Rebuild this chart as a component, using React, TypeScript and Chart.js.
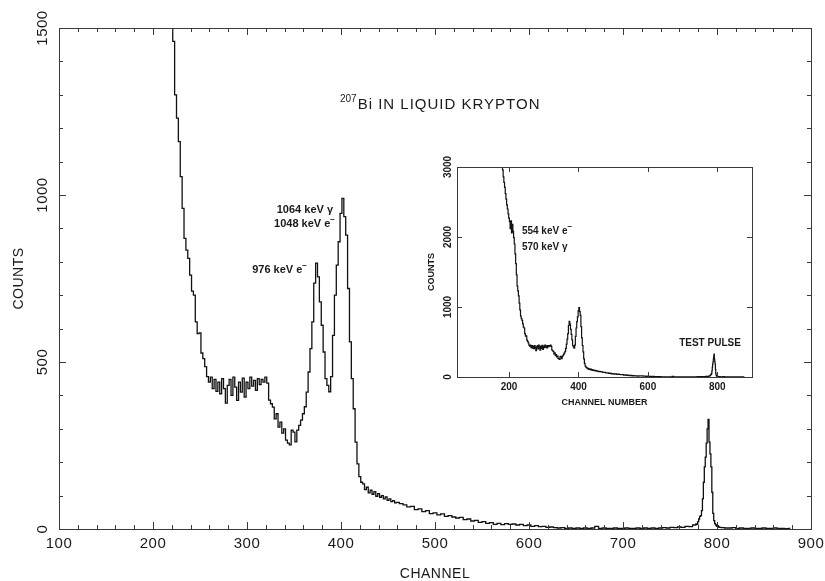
import { useEffect, useRef } from "react";
import { Chart, registerables } from "chart.js";

Chart.register(...registerables);

// ---- Spectrum data (counts), split into channel segments ----
// segment 1: channels 180..460 every 2 channels
const SEG1_START = 180;
const SEG1_STEP = 2;
const seg1Counts = [
  3050, 2960, 2860, 2780, 2710, 2620, 2540, 2460, 2400, 2330, // 180-198
  2270, 2220, 2120, 2230, 2060, 2180, 2080, 1990, 1900, 1760, // 200-218
  1620, 1460, 1300, 1230, 1160, 1055, 960, 870, 835, 810,     // 220-238
  760, 712, 700, 620, 585, 587, 527, 510, 486, 456,           // 240-258
  440, 455, 420, 448, 412, 440, 405, 450, 420, 377,           // 260-278
  430, 448, 400, 455, 425, 385, 440, 410, 452, 395,           // 280-298
  440, 420, 455, 428, 445, 415, 450, 432, 448, 440,           // 300-318
  455, 437, 386, 375, 365, 330, 345, 305, 320, 287,           // 320-338
  300, 266, 257, 252, 296, 290, 261, 296, 310, 326,           // 340-358
  345, 366, 410, 470, 540, 620, 736, 796, 755, 680,           // 360-378
  610, 530, 450, 430, 411, 456, 580, 700, 790, 860,           // 380-398
  945, 990, 935, 880, 720, 560, 450, 360, 260, 195,           // 400-418
  157, 140, 135, 118, 125, 108, 116, 104, 112, 98,            // 420-438
  106, 95, 100, 90, 96, 86, 90, 82, 85, 78,                   // 440-458
  80,                                                         // 460
];
// segment 2: channels 464..776 every 4 channels
const SEG2_START = 464;
const SEG2_STEP = 4;
const seg2Counts = [
  76, 72, 66, 68, 58, 60, 52, 55, 46, 48,   // 464-500
  42, 45, 38, 40, 36, 33, 35, 28, 30, 24,   // 504-540
  26, 20, 22, 17, 19, 14, 17, 13, 16, 14,   // 544-580
  15, 12, 14, 10, 12, 8, 10, 7, 8, 5,       // 584-620
  6, 4, 3, 4, 2, 3, 2, 3, 2, 3,             // 624-660
  2, 3, 8, 2, 3, 2, 2, 3, 2, 2,             // 664-700
  3, 2, 2, 3, 2, 3, 2, 3, 2, 3,             // 704-740
  4, 3, 5, 4, 6, 5, 8, 7, 12,               // 744-776
];
// segment 3: test pulse, channels 777..803 every channel
const SEG3_START = 777;
const SEG3_STEP = 1;
const seg3Counts = [
  12, 15, 14, 22, 30, 38, 40, 55, 90, 140, // 777-786
  186, 215, 257, 300, 328, 260, 225, 186, 110, 47, // 787-796
  25, 16, 12, 8, 10, 6, 5,                 // 797-803
];
// segment 4: channels 806..878 every 4 channels
const SEG4_START = 806;
const SEG4_STEP = 4;
const seg4Counts = [4, 3, 3, 4, 2, 3, 2, 2, 3, 2, 2, 3, 2, 2, 3, 2, 2, 1, 2];

// ---- Axis tick labels ----
const MAIN_X_LABELS = [100, 200, 300, 400, 500, 600, 700, 800, 900];
const MAIN_Y_LABELS = [0, 500, 1000, 1500];
const INSET_X_LABELS = [200, 400, 600, 800];
const INSET_Y_LABELS = [0, 1000, 2000, 3000];

// ---- Texts ----
const MAIN_TITLE_SUP = "207";
const MAIN_TITLE = "Bi IN LIQUID KRYPTON";
const MAIN_X_TITLE = "CHANNEL";
const MAIN_Y_TITLE = "COUNTS";
const INSET_X_TITLE = "CHANNEL NUMBER";
const INSET_Y_TITLE = "COUNTS";
// [text, superscript, channel, counts, align]
const MAIN_NOTES: [string, string, number, number, CanvasTextAlign][] = [
  ["1064 keV γ", "", 391.5, 955, "right"],
  ["1048 keV e", "−", 393.6, 913, "right"],
  ["976 keV e", "−", 363.8, 775, "right"],
];
const INSET_NOTES: [string, string, number, number, CanvasTextAlign][] = [
  ["554 keV e", "−", 237, 2086, "left"],
  ["570 keV γ", "", 237, 1857, "left"],
  ["TEST PULSE", "", 779, 486, "center"],
];

function buildSpectrum() {
  const pts: { x: number; y: number }[] = [];
  const add = (start: number, step: number, arr: number[]) =>
    arr.forEach((c, i) => pts.push({ x: start + i * step, y: c }));
  add(SEG1_START, SEG1_STEP, seg1Counts);
  add(SEG2_START, SEG2_STEP, seg2Counts);
  add(SEG3_START, SEG3_STEP, seg3Counts);
  add(SEG4_START, SEG4_STEP, seg4Counts);
  return pts;
}

const FONT = '"Liberation Sans", Arial, Helvetica, sans-serif';

function drawSupText(
  ctx: CanvasRenderingContext2D,
  base: string,
  sup: string,
  x: number,
  y: number,
  size: number,
  weight: string,
  align: CanvasTextAlign
) {
  const bf = `${weight} ${size}px ${FONT}`;
  const sf = `${weight} ${Math.round(size * 0.75)}px ${FONT}`;
  ctx.font = bf;
  const wb = ctx.measureText(base).width;
  ctx.font = sf;
  const ws = sup ? ctx.measureText(sup).width : 0;
  const total = wb + ws;
  let sx = x;
  if (align === "right") sx = x - total;
  else if (align === "center") sx = x - total / 2;
  ctx.textAlign = "left";
  ctx.textBaseline = "middle";
  ctx.font = bf;
  ctx.fillText(base, sx, y);
  if (sup) {
    ctx.font = sf;
    ctx.fillText(sup, sx + wb, y - size * 0.4);
  }
}

type Deco = {
  xLabels: number[];
  xMinor: number;
  yLabels: number[];
  yMinor: number;
  isMajorX: (v: number) => boolean;
  isMajorY: (v: number) => boolean;
  majorLen: number;
  minorLen: number;
  tickFont: string;
  xLabelGap: number;
  yLabelGap: number;
  xTitle: string;
  xTitleGap: number;
  yTitle: string;
  yTitleX: number;
  titleFont: string;
  spacing: string;
  notes: [string, string, number, number, CanvasTextAlign][];
  noteSize: number;
  noteWeight: string;
  extra?: (ctx: CanvasRenderingContext2D) => void;
};

function makeDeco(id: string, d: Deco) {
  return {
    id,
    afterDraw(chart: any) {
      const ctx: CanvasRenderingContext2D = chart.ctx;
      const a = chart.chartArea;
      const xs = chart.scales.x;
      const ys = chart.scales.y;
      ctx.save();
      ctx.strokeStyle = "#3a3a3a";
      ctx.fillStyle = "#1a1a1a";
      ctx.lineWidth = 1;
      ctx.strokeRect(a.left + 0.5, a.top + 0.5, a.right - a.left, a.bottom - a.top);
      ctx.beginPath();
      for (let v = Math.ceil(xs.min / d.xMinor) * d.xMinor; v <= xs.max; v += d.xMinor) {
        if (v <= xs.min || v >= xs.max) continue;
        const px = Math.round(xs.getPixelForValue(v)) + 0.5;
        const len = d.isMajorX(v) ? d.majorLen : d.minorLen;
        ctx.moveTo(px, a.bottom);
        ctx.lineTo(px, a.bottom - len);
        ctx.moveTo(px, a.top);
        ctx.lineTo(px, a.top + len);
      }
      for (let v = Math.ceil(ys.min / d.yMinor) * d.yMinor; v <= ys.max; v += d.yMinor) {
        if (v <= ys.min || v >= ys.max) continue;
        const py = Math.round(ys.getPixelForValue(v)) + 0.5;
        const len = d.isMajorY(v) ? d.majorLen : d.minorLen;
        ctx.moveTo(a.left, py);
        ctx.lineTo(a.left + len, py);
        ctx.moveTo(a.right, py);
        ctx.lineTo(a.right - len, py);
      }
      ctx.stroke();

      (ctx as any).letterSpacing = d.spacing;
      ctx.font = d.tickFont;
      ctx.textAlign = "center";
      ctx.textBaseline = "middle";
      d.xLabels.forEach((v) => {
        ctx.fillText(String(v), xs.getPixelForValue(v), a.bottom + d.xLabelGap);
      });
      d.yLabels.forEach((v) => {
        ctx.save();
        ctx.translate(a.left - d.yLabelGap, ys.getPixelForValue(v));
        ctx.rotate(-Math.PI / 2);
        ctx.fillText(String(v), 0, 0);
        ctx.restore();
      });
      ctx.font = d.titleFont;
      ctx.fillText(d.xTitle, (a.left + a.right) / 2, a.bottom + d.xTitleGap);
      ctx.save();
      ctx.translate(d.yTitleX, (a.top + a.bottom) / 2);
      ctx.rotate(-Math.PI / 2);
      ctx.fillText(d.yTitle, 0, 0);
      ctx.restore();
      (ctx as any).letterSpacing = "0px";

      d.notes.forEach(([t, s, cx, cy, al]) => {
        drawSupText(ctx, t, s, xs.getPixelForValue(cx), ys.getPixelForValue(cy), d.noteSize, d.noteWeight, al);
      });
      if (d.extra) d.extra(ctx);
      ctx.restore();
    },
  };
}

export default function App() {
  const mainRef = useRef<HTMLCanvasElement>(null);
  const insetRef = useRef<HTMLCanvasElement>(null);

  useEffect(() => {
    const pts = buildSpectrum();

    const mainDeco = makeDeco("mainDeco", {
      xLabels: MAIN_X_LABELS,
      xMinor: 20,
      yLabels: MAIN_Y_LABELS,
      yMinor: 100,
      isMajorX: (v) => v % 100 === 0,
      isMajorY: (v) => v % 500 === 0,
      majorLen: 7,
      minorLen: 4,
      tickFont: `15px ${FONT}`,
      xLabelGap: 15,
      yLabelGap: 16,
      xTitle: MAIN_X_TITLE,
      xTitleGap: 45,
      yTitle: MAIN_Y_TITLE,
      yTitleX: 19,
      titleFont: `14px ${FONT}`,
      spacing: "0.5px",
      notes: MAIN_NOTES,
      noteSize: 11,
      noteWeight: "bold",
      extra: (ctx) => {
        ctx.textAlign = "left";
        ctx.textBaseline = "alphabetic";
        ctx.font = `10px ${FONT}`;
        ctx.fillText(MAIN_TITLE_SUP, 340, 102);
        const w = ctx.measureText(MAIN_TITLE_SUP).width;
        ctx.font = `15px ${FONT}`;
        (ctx as any).letterSpacing = "1px";
        ctx.fillText(MAIN_TITLE, 340 + w + 1, 109);
        (ctx as any).letterSpacing = "0px";
      },
    });

    const insetDeco = makeDeco("insetDeco", {
      xLabels: INSET_X_LABELS,
      xMinor: 200,
      yLabels: INSET_Y_LABELS,
      yMinor: 1000,
      isMajorX: () => true,
      isMajorY: () => true,
      majorLen: 5,
      minorLen: 3,
      tickFont: `bold 10px ${FONT}`,
      xLabelGap: 10,
      yLabelGap: 9,
      xTitle: INSET_X_TITLE,
      xTitleGap: 26,
      yTitle: INSET_Y_TITLE,
      yTitleX: 12,
      titleFont: `bold 9px ${FONT}`,
      spacing: "0px",
      notes: INSET_NOTES,
      noteSize: 10,
      noteWeight: "bold",
    });

    const main = new Chart(mainRef.current!, {
      type: "line",
      data: {
        datasets: [
          {
            data: pts,
            borderColor: "#111",
            borderWidth: 1.3,
            stepped: "middle",
            pointRadius: 0,
            fill: false,
          },
        ],
      },
      options: {
        animation: false,
        responsive: false,
        devicePixelRatio: 1,
        layout: { padding: { left: 59, top: 28, right: 14, bottom: 52 } },
        scales: {
          x: { type: "linear", min: 100, max: 900, display: false },
          y: { type: "linear", min: 0, max: 1500, display: false },
        },
        plugins: { legend: { display: false }, tooltip: { enabled: false } },
        events: [],
      },
      plugins: [mainDeco as any],
    } as any);

    const inset = new Chart(insetRef.current!, {
      type: "line",
      data: {
        datasets: [
          {
            data: pts,
            borderColor: "#111",
            borderWidth: 1.2,
            stepped: "middle",
            pointRadius: 0,
            fill: false,
          },
        ],
      },
      options: {
        animation: false,
        responsive: false,
        devicePixelRatio: 1,
        layout: { padding: { left: 37, top: 22, right: 28, bottom: 43 } },
        scales: {
          x: { type: "linear", min: 50, max: 900, display: false },
          y: { type: "linear", min: 0, max: 3000, display: false },
        },
        plugins: { legend: { display: false }, tooltip: { enabled: false } },
        events: [],
      },
      plugins: [insetDeco as any],
    } as any);

    return () => {
      main.destroy();
      inset.destroy();
    };
  }, []);

  return (
    <div style={{ position: "fixed", left: 0, top: 0, width: 825, height: 581, background: "#fff" }}>
      <canvas
        ref={mainRef}
        width={825}
        height={581}
        style={{ position: "absolute", left: 0, top: 0, width: 825, height: 581 }}
      />
      <canvas
        ref={insetRef}
        width={360}
        height={275}
        style={{ position: "absolute", left: 420, top: 145, width: 360, height: 275 }}
      />
    </div>
  );
}
